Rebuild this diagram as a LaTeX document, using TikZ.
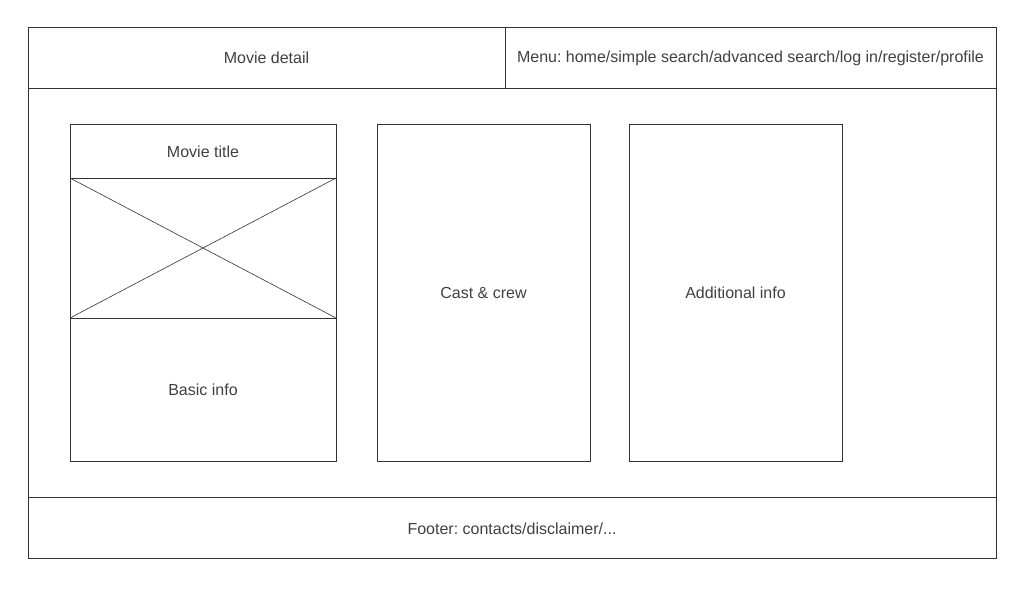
\documentclass[tikz,border=0pt]{standalone}
\usepackage{fontspec}
\setmainfont{Liberation Sans}
\frenchspacing
\definecolor{linec}{HTML}{333333}
\definecolor{textc}{HTML}{404040}
\tikzset{
  box/.style={draw=linec, line width=0.9pt, inner sep=0pt, outer sep=0pt},
  lbl/.style={text=textc, font=\fontsize{16pt}{19pt}\selectfont, inner sep=0pt},
}
\begin{document}
\begin{tikzpicture}[x=1pt,y=-1pt]
\useasboundingbox (0,0) rectangle (1024,600);
% outer frame and bands
\draw[box] (28,27) rectangle (996,558);
\coordinate (hl) at (28,88); \coordinate (hr) at (996,88);
\draw[box] (hl) -- (hr);
\coordinate (fl) at (28,497); \coordinate (fr) at (996,497);
\draw[box] (fl) -- (fr);
\coordinate (dt) at (505,27); \coordinate (db) at (505,88);
\draw[box] (dt) -- (db);
\node[lbl] (header) at (266.5,58) {Movie detail};
\node[lbl] (menu) at (750.5,58.5) {Menu: home/simple search/advanced search/log in/register/profile};
\node[lbl] (footer) at (512,528.5) {Footer: contacts/disclaimer/...};
% left column
\draw[box] (70,124) rectangle (336,178);
\node[lbl] (title) at (203,152) {Movie title};
\draw[box] (70,178) rectangle (336,318);
\coordinate (i1) at (70,178); \coordinate (i2) at (336,178);
\coordinate (i3) at (70,318); \coordinate (i4) at (336,318);
\draw[linec, line width=0.6pt] (i1) -- (i4);
\draw[linec, line width=0.6pt] (i2) -- (i3);
\draw[box] (70,318) rectangle (336,461);
\node[lbl] (basic) at (203,390) {Basic info};
% middle and right
\draw[box] (377,124) rectangle (590,461);
\node[lbl] (cast) at (483.5,293) {Cast \& crew};
\draw[box] (629,124) rectangle (842,461);
\node[lbl] (add) at (735.5,293) {Additional info};
\end{tikzpicture}
\end{document}
